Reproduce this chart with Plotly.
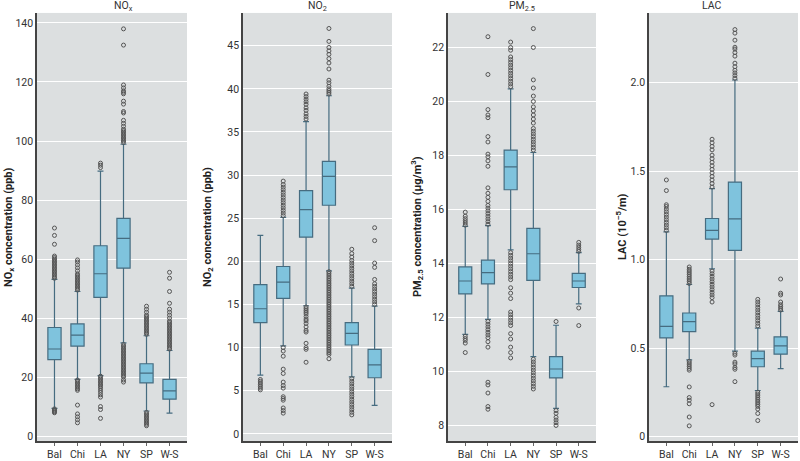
import plotly.graph_objects as go

cities = ["Bal", "Chi", "LA", "NY", "SP", "W-S"]

# NOx (ppb)
nox_lo = [9.4, 19.2, 20.5, 31.6, 8.5, 7.8]
nox_q1 = [25.9, 30.5, 47.0, 56.9, 18.0, 12.5]
nox_med = [29.5, 34.2, 55.0, 67.0, 21.3, 15.3]
nox_q3 = [36.8, 38.0, 64.5, 73.8, 24.5, 19.2]
nox_hi = [53.1, 49.0, 89.8, 98.9, 34.0, 29.0]
nox_out = [
    [53.5, 54, 54.5, 55, 55.5, 56, 56.5, 57, 57.5, 58, 58.5, 59, 59.5, 60, 60.5, 61, 65, 68, 70.5,
     9.2, 8.8, 8.5, 8.2, 7.9],
    [49.5, 50, 50.5, 51, 51.5, 52, 52.5, 53, 53.5, 54, 54.5, 55, 56, 57, 58, 59, 59.7,
     19, 18.5, 18, 17.5, 17, 16.5, 16, 15.5, 10.5, 7.5, 6.5, 5.5, 4.5],
    [91, 91.8, 92.5,
     20.3, 19.8, 19.3, 18.8, 18.3, 17.8, 17.3, 16.8, 16.2, 15.5, 14.8, 14, 13.2, 10, 9, 6],
    [99.5, 100, 100.5, 101, 101.5, 102, 102.5, 103, 103.5, 104, 105, 106, 107, 109.5, 110, 112.5,
     113.5, 116, 116.5, 117, 118, 119, 132.5, 138,
     31, 30.5, 30, 29.5, 29, 28.5, 28, 27.5, 27, 26.5, 26, 25.5, 25, 24.5, 24, 23.5, 23, 22.5, 22,
     21.5, 21, 20.5, 20, 19, 18.3],
    [34.5, 35, 35.5, 36, 36.5, 37, 37.5, 38, 38.5, 39, 39.5, 40, 40.5, 41, 42, 43, 44,
     8, 7.5, 7, 6.5, 6, 5.5, 5, 4.5, 4, 3.5],
    [29.5, 30, 30.5, 31, 31.5, 32, 32.5, 33, 33.5, 34, 34.5, 35, 35.5, 36, 36.5, 37, 37.5, 38,
     38.5, 39, 40, 41, 42, 43, 45, 49, 53.5, 55.5],
]

# NO2 (ppb)
no2_lo = [6.8, 10.2, 14.85, 18.9, 6.6, 3.3]
no2_q1 = [12.9, 15.7, 22.8, 26.5, 10.3, 6.5]
no2_med = [14.5, 17.6, 26.0, 29.85, 11.65, 8.0]
no2_q3 = [17.3, 19.4, 28.2, 31.6, 12.9, 9.8]
no2_hi = [23.0, 25.1, 36.2, 39.2, 16.9, 14.8]
no2_out = [
    [6.3, 6.1, 5.9, 5.7, 5.5, 5.3, 5.1],
    [25.3, 25.6, 25.9, 26.2, 26.5, 26.8, 27.1, 27.4, 27.7, 28, 28.3, 28.6, 28.9, 29.3,
     10, 9.6, 9, 7.5, 7, 6, 5.6, 5.3, 4.3, 4.1, 3.9, 3, 2.7, 2.4],
    [36.5, 36.8, 37.1, 37.5, 37.8, 38.2, 38.5, 38.8, 39.1, 39.4,
     14.7, 14.5, 14.3, 14.1, 13.9, 13.6, 13.3, 13.1, 12.8, 12.4, 12, 11.8, 10.5, 10, 9.8, 8.3],
    [39.4, 39.6, 39.8, 40, 40.3, 40.7, 41, 42.3, 43, 43.5, 44, 44.4, 44.8, 45.5, 47,
     18.8, 18.6, 18.4, 18.2, 18, 17.8, 17.6, 17.4, 17.2, 17, 16.8, 16.6, 16.4, 16.2, 16, 15.8,
     15.6, 15.4, 15.2, 15, 14.8, 14.6, 14.4, 14.2, 14, 13.8, 13.6, 13.4, 13.2, 13, 12.8, 12.6,
     12.4, 12.2, 12, 11.8, 11.6, 11.4, 11.2, 11, 10.8, 10.6, 10.4, 10.2, 10, 9.8, 9.6, 9.4, 9.2, 8.7],
    [17.1, 17.4, 17.7, 18, 18.3, 18.6, 18.9, 19.2, 19.5, 19.8, 20.1, 20.5, 20.9, 21.4,
     6.4, 6.1, 5.8, 5.5, 5.2, 4.9, 4.6, 4.3, 4, 3.7, 3.4, 3.1, 2.8, 2.5, 2.2],
    [15, 15.3, 15.6, 15.9, 16.2, 16.5, 16.8, 17.1, 17.4, 17.9, 19.3, 19.8, 22.4, 23.9],
]

# PM2.5 (ug/m3)
pm_lo = [11.37, 11.93, 14.5, 10.55, 8.63, 12.5]
pm_q1 = [12.87, 13.24, 16.73, 13.37, 9.76, 13.11]
pm_med = [13.35, 13.66, 17.58, 14.36, 10.09, 13.35]
pm_q3 = [13.87, 14.12, 18.2, 15.3, 10.55, 13.63]
pm_hi = [15.37, 15.4, 20.47, 18.11, 11.71, 14.4]
pm_out = [
    [15.42, 15.5, 15.58, 15.66, 15.75, 15.9, 11.3, 11.22, 11.15, 11.05, 10.7],
    [15.45, 15.55, 15.65, 15.75, 15.85, 15.95, 16.05, 16.15, 16.3, 16.45, 16.6, 16.8, 17.6,
     17.8, 17.95, 18.05, 18.5, 18.7, 19.4, 19.5, 19.7, 21.0, 22.4,
     11.85, 11.75, 11.65, 11.55, 11.45, 11.35, 11.25, 11.1, 10.9, 9.6, 9.5, 9.2, 8.7, 8.6],
    [20.55, 20.65, 20.75, 20.85, 20.95, 21.05, 21.15, 21.25, 21.35, 21.45, 21.55, 21.65, 21.9,
     22.0, 22.2,
     14.4, 14.3, 14.2, 14.1, 14, 13.9, 13.8, 13.7, 13.6, 13.5, 13.4, 13.1, 12.9, 12.7, 12.2,
     12.1, 12.0, 11.9, 11.8, 11.7, 11.4, 11.2, 10.9, 10.7, 10.5],
    [18.2, 18.3, 18.4, 18.5, 18.6, 18.7, 18.8, 18.9, 19.0, 19.2, 19.35, 19.5, 19.65, 19.8, 20.0,
     20.2, 20.5, 20.8, 22.0, 22.7,
     10.45, 10.35, 10.25, 10.15, 10.05, 9.95, 9.85, 9.75, 9.65, 9.55, 9.45, 9.35],
    [11.85, 8.55, 8.45, 8.3, 8.2, 8.1, 8.0],
    [14.45, 14.52, 14.6, 14.68, 14.78, 12.35, 11.7],
]

# LAC (10^-5/m)
lac_lo = [0.281, 0.433, 0.947, 0.482, 0.26, 0.383]
lac_q1 = [0.557, 0.593, 1.116, 1.052, 0.394, 0.465]
lac_med = [0.622, 0.649, 1.165, 1.23, 0.44, 0.512]
lac_q3 = [0.795, 0.698, 1.232, 1.438, 0.482, 0.563]
lac_hi = [1.157, 0.859, 1.401, 2.015, 0.613, 0.707]
lac_out = [
    [1.165, 1.18, 1.195, 1.21, 1.225, 1.24, 1.255, 1.27, 1.285, 1.30, 1.31, 1.39, 1.45],
    [0.865, 0.875, 0.885, 0.895, 0.905, 0.915, 0.925, 0.935, 0.945, 0.958,
     0.425, 0.415, 0.405, 0.395, 0.385, 0.375, 0.28, 0.22, 0.205, 0.185, 0.11, 0.06],
    [1.41, 1.43, 1.45, 1.47, 1.49, 1.51, 1.53, 1.55, 1.57, 1.59, 1.62, 1.64, 1.66, 1.68,
     0.935, 0.92, 0.905, 0.89, 0.875, 0.86, 0.845, 0.83, 0.815, 0.8, 0.785, 0.76, 0.18],
    [2.025, 2.04, 2.055, 2.07, 2.09, 2.11, 2.15, 2.17, 2.19, 2.2, 2.24, 2.28, 2.3,
     0.47, 0.46, 0.42, 0.41, 0.39, 0.38, 0.31],
    [0.625, 0.64, 0.655, 0.67, 0.685, 0.70, 0.715, 0.73, 0.745, 0.76, 0.775,
     0.25, 0.24, 0.23, 0.22, 0.21, 0.2, 0.19, 0.18, 0.17, 0.155, 0.13, 0.09],
    [0.715, 0.725, 0.735, 0.745, 0.76, 0.8, 0.81, 0.89],
]

titles = ["NO<sub>x</sub>", "NO<sub>2</sub>", "PM<sub>2.5</sub>", "LAC"]
ytitles = ["NO<sub>x</sub> concentration (ppb)", "NO<sub>2</sub> concentration (ppb)",
           "PM<sub>2.5</sub> concentration (µg/m<sup>3</sup>)", "LAC (10<sup>–5</sup>/m)"]
yranges = [[-1.7, 143.4], [-0.84, 48.8], [7.42, 23.28], [-0.026, 2.394]]
ytickvals = [[0, 20, 40, 60, 80, 100, 120, 140], [0, 5, 10, 15, 20, 25, 30, 35, 40, 45],
             [8, 10, 12, 14, 16, 18, 20, 22], [0, 0.5, 1.0, 1.5, 2.0]]
yticktext = [None, None, None, ["0", "0.5", "1.0", "1.5", "2.0"]]

panels = [
    (nox_lo, nox_q1, nox_med, nox_q3, nox_hi, nox_out),
    (no2_lo, no2_q1, no2_med, no2_q3, no2_hi, no2_out),
    (pm_lo, pm_q1, pm_med, pm_q3, pm_hi, pm_out),
    (lac_lo, lac_q1, lac_med, lac_q3, lac_hi, lac_out),
]

W, H = 800, 461
xdom_px = [(37, 187), (243, 392), (448, 596), (649, 798)]
ytitle_x = [9, 208, 417, 621]
top_px, bot_px = 13, 443
ydom = [(H - bot_px) / H, (H - top_px) / H]

FONT = "Roboto, Liberation Sans, sans-serif"

fig = go.Figure()
annotations = []
for i, (lo, q1, med, q3, hi, outs) in enumerate(panels):
    n = "" if i == 0 else str(i + 1)
    xa, ya = "x" + n, "y" + n
    fig.add_trace(go.Box(
        x=cities, q1=q1, median=med, q3=q3, lowerfence=lo, upperfence=hi,
        boxpoints=False, fillcolor="#7fc3dd", line=dict(color="#466c80", width=1.2),
        whiskerwidth=0.45, xaxis=xa, yaxis=ya, showlegend=False, hoverinfo="skip"))
    ox, oy = [], []
    for c, vals in zip(cities, outs):
        ox += [c] * len(vals)
        oy += vals
    fig.add_trace(go.Scatter(
        x=ox, y=oy, mode="markers", xaxis=xa, yaxis=ya, showlegend=False,
        marker=dict(symbol="circle-open", size=4, color="#555555", line=dict(width=1))))

    d = [xdom_px[i][0] / W, xdom_px[i][1] / W]
    fig.layout["xaxis" + n] = dict(
        domain=d, anchor=ya, type="category", range=[-0.76, 5.76],
        showgrid=False, showline=True, linecolor="#444444", linewidth=1.5,
        ticks="outside", ticklen=3, tickcolor="#666666",
        tickfont=dict(size=10.5, color="#333333"), fixedrange=True)
    fig.layout["yaxis" + n] = dict(
        domain=ydom, anchor=xa, range=yranges[i], tickvals=ytickvals[i],
        ticktext=yticktext[i], showgrid=True, gridcolor="white", gridwidth=1,
        zeroline=False, showline=True, linecolor="#444444", linewidth=1.5,
        ticks="", tickfont=dict(size=10.5, color="#333333"), fixedrange=True)

    annotations.append(dict(
        text=titles[i], x=(d[0] + d[1]) / 2, y=(H - 6) / H, xref="paper", yref="paper",
        showarrow=False, font=dict(size=10.5, color="#333333"), yanchor="middle"))
    annotations.append(dict(
        text="<b>" + ytitles[i] + "</b>", x=ytitle_x[i] / W, y=(H - 228) / H,
        xref="paper", yref="paper", textangle=-90, showarrow=False,
        font=dict(size=11, color="#222222"), xanchor="center", yanchor="middle"))

fig.update_layout(
    width=W, height=H, margin=dict(l=0, r=0, t=0, b=0),
    paper_bgcolor="white", plot_bgcolor="#dcdfe0",
    font=dict(family=FONT, color="#333333"),
    boxgap=0.18, annotations=annotations)

# drop the browser's default 8px page margin so the figure fills the window
fig.write_html("out.html", config={"displayModeBar": False},
               post_script="document.body.style.margin='0';")
